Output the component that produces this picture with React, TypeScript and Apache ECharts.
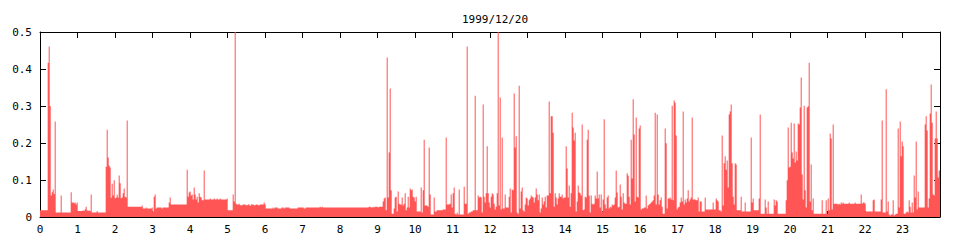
import React, { useEffect, useRef } from "react";
import * as echarts from "echarts";

// Each pair: [minute of day where the step starts, value]
const title = "1999/12/20";
const yTicks = [0, 0.1, 0.2, 0.3, 0.4, 0.5];

const seg00to03: [number, number][] = [
  [0, 0.018], [12.3, 0.417], [13.9, 0.461], [15.5, 0.3], [17.1, 0.058], [18.7, 0.067], [20.3, 0.074],
  [21.9, 0.062], [23.5, 0.258], [25.1, 0.012], [33.1, 0.058], [34.7, 0.012], [49.1, 0.067], [50.7, 0.039],
  [53.9, 0.037], [55.5, 0.039], [57.1, 0.034], [58.7, 0.039], [60.3, 0.016], [68.3, 0.018], [69.9, 0.016],
  [71.5, 0.021], [73.1, 0.028], [74.7, 0.018], [76.3, 0.016], [77.9, 0.018], [79.5, 0.016], [81.1, 0.061],
  [82.7, 0.012], [90.7, 0.016], [92.3, 0.012], [105.1, 0.136], [106.7, 0.236], [108.3, 0.161], [109.9, 0.139],
  [111.5, 0.134], [113.1, 0.052], [114.7, 0.09], [116.3, 0.058], [117.9, 0.099], [119.5, 0.051], [121.1, 0.053],
  [122.7, 0.061], [124.3, 0.053], [125.9, 0.112], [127.5, 0.091], [129.1, 0.051], [130.7, 0.053], [132.3, 0.064],
  [133.9, 0.077], [135.5, 0.055], [137.1, 0.053], [138.7, 0.261], [140.3, 0.028], [162.7, 0.031], [164.3, 0.023],
  [169.1, 0.026], [170.7, 0.023], [178.7, 0.026], [180.3, 0.015], [181.9, 0.055], [183.5, 0.061], [185.1, 0.023],
  [186.7, 0.026], [194.7, 0.023], [196.3, 0.026],
];

const seg03to07: [number, number][] = [
  [204.3, 0.026], [205.9, 0.039], [207.5, 0.053], [209.1, 0.034], [234.7, 0.128], [236.3, 0.055], [237.9, 0.066],
  [239.5, 0.069], [241.1, 0.058], [242.7, 0.061], [244.3, 0.047], [245.9, 0.08], [247.5, 0.061], [249.1, 0.047],
  [250.7, 0.055], [252.3, 0.039], [253.9, 0.064], [255.5, 0.055], [257.1, 0.053], [258.7, 0.045], [261.9, 0.126],
  [263.5, 0.047], [271.5, 0.05], [273.1, 0.047], [277.9, 0.05], [279.5, 0.047], [282.7, 0.05], [284.3, 0.047],
  [287.5, 0.05], [289.1, 0.047], [298.7, 0.05], [300.3, 0.018], [308.3, 0.061], [309.9, 0.042], [311.5, 0.5],
  [313.1, 0.036], [314.7, 0.034], [317.9, 0.036], [319.5, 0.032], [324.3, 0.034], [329.1, 0.032], [332.3, 0.034],
  [335.5, 0.03], [337.1, 0.034], [341.9, 0.032], [345.1, 0.034], [348.3, 0.032], [351.5, 0.034], [357.9, 0.039],
  [359.5, 0.034], [361.1, 0.023], [372.3, 0.026], [373.9, 0.023], [375.5, 0.026], [380.3, 0.023], [386.7, 0.026],
  [389.9, 0.023], [391.5, 0.026], [399.5, 0.023],
];

const seg07to10: [number, number][] = [
  [412.3, 0.026], [421.9, 0.023], [425.1, 0.026], [447.5, 0.028], [449.1, 0.026], [450.7, 0.028], [452.3, 0.026],
  [525.9, 0.028], [529.1, 0.026], [532.3, 0.028], [533.9, 0.026], [535.5, 0.028], [540.3, 0.026], [541.9, 0.028],
  [548.3, 0.042], [549.9, 0.05], [551.5, 0.053], [553.1, 0.018], [554.7, 0.431], [556.3, 0.053], [557.9, 0.174],
  [559.5, 0.347], [561.1, 0.072], [562.7, 0.009], [565.9, 0.023], [567.5, 0.053], [569.1, 0.055], [570.7, 0.015],
  [572.3, 0.069], [573.9, 0.036], [575.5, 0.034], [578.7, 0.053], [580.3, 0.031], [581.9, 0.036], [583.5, 0.064],
  [585.1, 0.018], [586.7, 0.026], [588.3, 0.055], [589.9, 0.026], [591.5, 0.077], [593.1, 0.072], [594.7, 0.074],
  [596.3, 0.055], [597.9, 0.053], [599.5, 0.042], [601.1, 0.055], [602.7, 0.015], [609.1, 0.08], [610.7, 0.012],
  [612.3, 0.072], [613.9, 0.209], [615.5, 0.031],
];

const seg10to14: [number, number][] = [
  [620.3, 0.028], [621.9, 0.188], [623.5, 0.061], [625.1, 0.007], [629.9, 0.053], [631.5, 0.015], [634.7, 0.018],
  [644.3, 0.02], [649.1, 0.215], [650.7, 0.034], [655.5, 0.036], [657.1, 0.061], [658.7, 0.026], [660.3, 0.064],
  [661.9, 0.08], [663.5, 0.009], [665.1, 0.007], [666.7, 0.012], [668.3, 0.007], [669.9, 0.074], [671.5, 0.007],
  [677.9, 0.082], [679.5, 0.036], [682.7, 0.461], [684.3, 0.009], [685.9, 0.012], [689.1, 0.015], [692.3, 0.018],
  [695.5, 0.328], [697.1, 0.018], [700.3, 0.058], [701.9, 0.053], [703.5, 0.055], [705.1, 0.053], [706.7, 0.012],
  [708.3, 0.304], [709.9, 0.055], [711.5, 0.039], [713.1, 0.064], [714.7, 0.191], [716.3, 0.064], [717.9, 0.039],
  [719.5, 0.026], [721.1, 0.055], [722.7, 0.064], [724.3, 0.061], [725.9, 0.036], [727.5, 0.02], [729.1, 0.028],
  [730.7, 0.064], [732.3, 0.5], [733.9, 0.031], [735.5, 0.323], [737.1, 0.02], [738.7, 0.215], [740.3, 0.023],
  [743.5, 0.061], [745.1, 0.026], [749.9, 0.055], [751.5, 0.077], [753.1, 0.012], [754.7, 0.074], [756.3, 0.072],
  [757.9, 0.334], [759.5, 0.188], [761.1, 0.218], [762.7, 0.012], [764.3, 0.009], [765.9, 0.355], [767.5, 0.023],
  [769.1, 0.069], [770.7, 0.08], [772.3, 0.018], [773.9, 0.015], [775.5, 0.034], [777.1, 0.053], [778.7, 0.05],
  [780.3, 0.031], [781.9, 0.045], [783.5, 0.05], [785.1, 0.058], [786.7, 0.055], [788.3, 0.053], [789.9, 0.039],
  [791.5, 0.053], [793.1, 0.077], [794.7, 0.061], [796.3, 0.045], [797.9, 0.061], [799.5, 0.012], [801.1, 0.023],
  [802.7, 0.053], [804.3, 0.034], [805.9, 0.042], [807.5, 0.055], [809.1, 0.026], [810.7, 0.058], [813.9, 0.312],
  [815.5, 0.064], [817.1, 0.272], [820.3, 0.228], [821.9, 0.028], [823.5, 0.064], [825.1, 0.053], [826.7, 0.034],
];

const seg14to17: [number, number][] = [
  [828.3, 0.05], [829.9, 0.064], [831.5, 0.055], [834.7, 0.061], [836.3, 0.05], [837.9, 0.053], [841.1, 0.191],
  [842.7, 0.131], [844.3, 0.053], [845.9, 0.085], [847.5, 0.028], [849.1, 0.064], [850.7, 0.282], [852.3, 0.242],
  [853.9, 0.207], [855.5, 0.228], [857.1, 0.015], [858.7, 0.042], [860.3, 0.085], [861.9, 0.066], [863.5, 0.064],
  [865.1, 0.058], [866.7, 0.25], [868.3, 0.018], [869.9, 0.02], [871.5, 0.055], [873.1, 0.053], [874.7, 0.209],
  [876.3, 0.236], [877.9, 0.058], [879.5, 0.012], [881.1, 0.058], [882.7, 0.036], [884.3, 0.034], [885.9, 0.036],
  [887.5, 0.058], [889.1, 0.05], [890.7, 0.123], [892.3, 0.05], [893.9, 0.061], [895.5, 0.026], [897.1, 0.061],
  [898.7, 0.015], [900.3, 0.047], [901.9, 0.264], [903.5, 0.034], [905.1, 0.023], [906.7, 0.053], [908.3, 0.058],
  [909.9, 0.023], [911.5, 0.028], [913.1, 0.026], [914.7, 0.034], [916.3, 0.031], [917.9, 0.034], [919.5, 0.053],
  [921.1, 0.126], [922.7, 0.066], [924.3, 0.026], [925.9, 0.028], [927.5, 0.088], [929.1, 0.055], [930.7, 0.02],
  [932.3, 0.064], [933.9, 0.039], [935.5, 0.036], [938.7, 0.118], [940.3, 0.112], [941.9, 0.055], [943.5, 0.034],
  [945.1, 0.209], [946.7, 0.104], [948.3, 0.318], [949.9, 0.223], [951.5, 0.042], [953.1, 0.269], [954.7, 0.055],
  [956.3, 0.053], [957.9, 0.239], [959.5, 0.247], [961.1, 0.02], [962.7, 0.023], [965.9, 0.026], [969.1, 0.058],
  [970.7, 0.023], [972.3, 0.031], [973.9, 0.034], [975.5, 0.036], [977.1, 0.039], [978.7, 0.042], [980.3, 0.045],
  [981.9, 0.058], [983.5, 0.282], [985.1, 0.034], [986.7, 0.277], [988.3, 0.061], [989.9, 0.034], [991.5, 0.045],
  [993.1, 0.053], [994.7, 0.028], [996.3, 0.009], [999.5, 0.239], [1001.1, 0.199], [1002.7, 0.023], [1004.3, 0.05],
  [1007.5, 0.053], [1009.1, 0.047], [1010.7, 0.301], [1012.3, 0.045], [1013.9, 0.315], [1015.5, 0.309],
  [1017.1, 0.22], [1018.7, 0.02], [1020.3, 0.026], [1021.9, 0.028], [1023.5, 0.039], [1025.1, 0.053],
  [1026.7, 0.042], [1028.3, 0.285], [1029.9, 0.034], [1031.5, 0.047], [1033.1, 0.039], [1034.7, 0.05],
];

const seg17to21: [number, number][] = [
  [1036.3, 0.072], [1037.9, 0.042], [1039.5, 0.047], [1041.1, 0.053], [1042.7, 0.269], [1044.3, 0.047],
  [1049.1, 0.045], [1052.3, 0.053], [1053.9, 0.015], [1055.5, 0.042], [1058.7, 0.015], [1063.5, 0.053],
  [1065.1, 0.02], [1076.3, 0.039], [1077.9, 0.02], [1081.1, 0.05], [1082.7, 0.045], [1084.3, 0.042],
  [1085.9, 0.018], [1089.1, 0.015], [1090.7, 0.22], [1092.3, 0.031], [1093.9, 0.145], [1095.5, 0.164],
  [1097.1, 0.128], [1098.7, 0.153], [1100.3, 0.08], [1101.9, 0.277], [1103.5, 0.285], [1105.1, 0.304],
  [1106.7, 0.145], [1108.3, 0.055], [1109.9, 0.034], [1111.5, 0.145], [1113.1, 0.142], [1114.7, 0.018],
  [1121.1, 0.055], [1122.7, 0.015], [1127.5, 0.039], [1129.1, 0.015], [1137.1, 0.215], [1138.7, 0.039],
  [1140.3, 0.05], [1141.9, 0.018], [1149.9, 0.05], [1151.5, 0.277], [1153.1, 0.009], [1159.5, 0.047],
  [1161.1, 0.026], [1162.7, 0.009], [1164.3, 0.042], [1165.9, 0.009], [1173.9, 0.047], [1175.5, 0.031],
  [1177.1, 0.045], [1178.7, 0.042], [1180.3, 0.009], [1193.1, 0.045], [1194.7, 0.099], [1196.3, 0.242],
  [1197.9, 0.134], [1199.5, 0.136], [1201.1, 0.255], [1202.7, 0.174], [1204.3, 0.158], [1205.9, 0.253],
  [1207.5, 0.147], [1209.1, 0.177], [1210.7, 0.153], [1212.3, 0.253], [1213.9, 0.25], [1215.5, 0.296],
  [1217.1, 0.377], [1218.7, 0.115], [1220.3, 0.047], [1221.9, 0.301], [1223.5, 0.072], [1225.1, 0.026],
  [1226.7, 0.296], [1228.3, 0.299], [1229.9, 0.417], [1231.5, 0.042], [1233.1, 0.142], [1234.7, 0.018],
  [1236.3, 0.05], [1237.9, 0.009],
];

const seg21to24: [number, number][] = [
  [1244.3, 0.009], [1250.7, 0.045], [1252.3, 0.009], [1257.1, 0.045], [1258.7, 0.009], [1260.3, 0.05],
  [1261.9, 0.018], [1263.5, 0.226], [1265.1, 0.212], [1266.7, 0.02], [1268.3, 0.25], [1269.9, 0.036],
  [1276.3, 0.034], [1277.9, 0.036], [1279.5, 0.034], [1281.1, 0.039], [1282.7, 0.036], [1284.3, 0.039],
  [1285.9, 0.036], [1293.9, 0.039], [1295.5, 0.036], [1303.5, 0.039], [1305.1, 0.036], [1313.1, 0.061],
  [1314.7, 0.036], [1316.3, 0.039], [1319.5, 0.036], [1321.1, 0.015], [1332.3, 0.045], [1333.9, 0.047],
  [1335.5, 0.015], [1345.1, 0.047], [1346.7, 0.261], [1348.3, 0.012], [1353.1, 0.345], [1354.7, 0.015],
  [1356.3, 0.042], [1357.9, 0.007], [1359.5, 0.004], [1361.1, 0.007], [1364.3, 0.045], [1365.9, 0.004],
  [1367.5, 0.007], [1369.1, 0.009], [1372.3, 0.239], [1373.9, 0.026], [1375.5, 0.258], [1377.1, 0.164],
  [1378.7, 0.204], [1380.3, 0.191], [1381.9, 0.009], [1385.1, 0.012], [1386.7, 0.015], [1388.3, 0.012],
  [1389.9, 0.045], [1391.5, 0.028], [1393.1, 0.012], [1394.7, 0.039], [1396.3, 0.012], [1397.9, 0.112],
  [1399.5, 0.053], [1401.1, 0.204], [1402.7, 0.02], [1404.3, 0.069], [1405.9, 0.026], [1415.5, 0.25],
  [1417.1, 0.272], [1418.7, 0.234], [1420.3, 0.026], [1421.9, 0.05], [1423.5, 0.28], [1425.1, 0.358],
  [1426.7, 0.255], [1428.3, 0.061], [1429.9, 0.058], [1431.5, 0.212], [1433.1, 0.285], [1434.7, 0.212],
  [1436.3, 0.107], [1437.9, 0.126], [1440, 0.126],
];

const FONT = "DejaVu Sans Mono";

export default function App() {
  const ref = useRef<HTMLDivElement>(null);
  useEffect(() => {
    document.body.style.margin = "0";
    if (!ref.current) return;
    const chart = echarts.init(ref.current, null, { renderer: "svg" });
    const data = [
      ...seg00to03, ...seg03to07, ...seg07to10, ...seg10to14,
      ...seg14to17, ...seg17to21, ...seg21to24,
    ];
    const xCommon = {
      type: "value" as const,
      min: 0,
      max: 1440,
      interval: 60,
      axisLine: { show: true, onZero: false, lineStyle: { color: "#000", width: 1 } },
      axisTick: { show: true, inside: true, length: 6, lineStyle: { color: "#000" } },
      splitLine: { show: false },
    };
    const yCommon = {
      type: "value" as const,
      min: yTicks[0],
      max: yTicks[yTicks.length - 1],
      interval: 0.1,
      axisLine: { show: true, onZero: false, lineStyle: { color: "#000", width: 1 } },
      axisTick: { show: true, inside: true, length: 6, lineStyle: { color: "#000" } },
      splitLine: { show: false },
    };
    chart.setOption({
      animation: false,
      title: {
        text: title,
        left: 490,
        top: 9,
        textAlign: "center",
        textStyle: { fontFamily: FONT, fontSize: 11, fontWeight: "normal", color: "#000" },
      },
      grid: { left: 40, right: 20, top: 32, bottom: 23 },
      xAxis: [
        {
          ...xCommon,
          position: "bottom",
          axisLabel: {
            show: true,
            margin: 7,
            color: "#000",
            fontFamily: FONT,
            fontSize: 11,
            showMaxLabel: false,
            formatter: (v: number) => (v >= 1440 ? "" : String(v / 60)),
          },
        },
        { ...xCommon, position: "top", axisLabel: { show: false } },
      ],
      yAxis: [
        {
          ...yCommon,
          position: "left",
          axisLabel: {
            show: true,
            margin: 8,
            color: "#000",
            fontFamily: FONT,
            fontSize: 11,
            formatter: (v: number) => (v === 0 ? "0" : String(Math.round(v * 10) / 10)),
          },
        },
        { ...yCommon, position: "right", axisLabel: { show: false } },
      ],
      series: [
        {
          type: "line",
          xAxisIndex: 0,
          yAxisIndex: 0,
          step: "end",
          symbol: "none",
          data,
          lineStyle: { width: 0, color: "#ff5555" },
          areaStyle: { color: "#ff5555", opacity: 1 },
          z: 5,
        },
      ],
    });
    return () => chart.dispose();
  }, []);
  return <div ref={ref} style={{ width: 960, height: 240 }} />;
}
